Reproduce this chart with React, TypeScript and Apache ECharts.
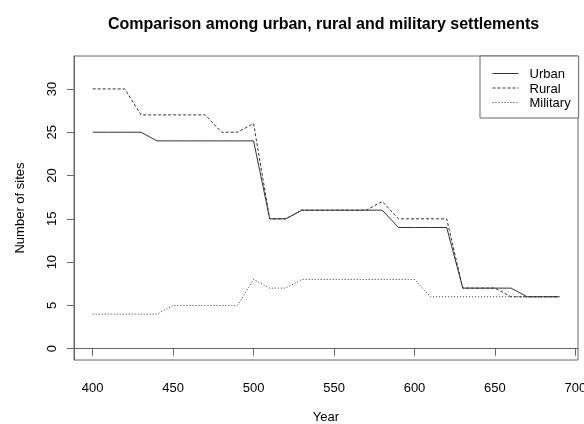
import React, { useEffect, useRef } from "react";
import * as echarts from "echarts";

const years = [400, 410, 420, 430, 440, 450, 460, 470, 480, 490, 500, 510, 520, 530, 540, 550, 560, 570, 580, 590, 600, 610, 620, 630, 640, 650, 660, 670, 680, 690];
const urban = [25, 25, 25, 25, 24, 24, 24, 24, 24, 24, 24, 15, 15, 16, 16, 16, 16, 16, 16, 14, 14, 14, 14, 7, 7, 7, 7, 6, 6, 6];
const rural = [30, 30, 30, 27, 27, 27, 27, 27, 25, 25, 26, 15, 15, 16, 16, 16, 16, 16, 17, 15, 15, 15, 15, 7, 7, 7, 6, 6, 6, 6];
const military = [4, 4, 4, 4, 4, 5, 5, 5, 5, 5, 8, 7, 7, 8, 8, 8, 8, 8, 8, 8, 8, 6, 6, 6, 6, 6, 6, 6, 6, 6];
const xTicks = [400, 450, 500, 550, 600, 650, 700];
const yTicks = [0, 5, 10, 15, 20, 25, 30];
const seriesNames = ["Urban", "Rural", "Military"];

const FONT = "'Liberation Sans', Arial, Helvetica, sans-serif";

export default function App() {
  const ref = useRef<HTMLDivElement>(null);
  useEffect(() => {
    if (!ref.current) return;
    const chart = echarts.init(ref.current, null, { renderer: "svg" });
    const lineColor = "#333";
    const mk = (name: string, vals: number[], type: any) => ({
      name,
      type: "line",
      data: years.map((y, i) => [y, vals[i]]),
      symbol: "none",
      lineStyle: { color: lineColor, width: 1, type },
      itemStyle: { color: lineColor },
    });
    chart.setOption({
      animation: false,
      textStyle: { fontFamily: FONT },
      title: {
        text: "Comparison among urban, rural and military settlements",
        left: 103,
        top: 10,
        textStyle: { fontFamily: FONT, fontWeight: "bold", fontSize: 16, color: "#000" },
      },
      grid: {
        left: 74,
        top: 56,
        right: 6,
        bottom: 64,
        outerBoundsMode: "none",
        containLabel: false,
        show: true,
        borderColor: "#666",
        borderWidth: 1,
        backgroundColor: "transparent",
      },
      legend: {
        data: seriesNames,
        orient: "vertical",
        left: 480,
        top: 56,
        padding: [11, 8, 9, 12],
        itemWidth: 26,
        itemHeight: 14,
        itemGap: 1.5,
        borderColor: "#666",
        borderWidth: 1,
        backgroundColor: "#fff",
        itemStyle: { color: "transparent", borderWidth: 0, opacity: 0 },
        lineStyle: { width: 1 },
        textStyle: { fontFamily: FONT, fontSize: 13, color: "#000", padding: [0, 0, 0, 6] },
      },
      xAxis: {
        type: "value",
        min: 388.4,
        max: 701.6,
        name: "Year",
        nameLocation: "middle",
        nameGap: 50,
        nameTextStyle: { fontFamily: FONT, fontSize: 13, color: "#000" },
        axisLine: { show: true, lineStyle: { color: "#666" } },
        axisTick: { show: true, customValues: xTicks, length: 7, lineStyle: { color: "#666" } },
        axisLabel: { customValues: xTicks, margin: 21, fontFamily: FONT, fontSize: 13, color: "#000" },
        splitLine: { show: false },
      },
      yAxis: {
        type: "value",
        min: -1.3,
        max: 33.8,
        name: "Number of sites",
        nameLocation: "middle",
        nameGap: 48,
        nameRotate: 90,
        nameTextStyle: { fontFamily: FONT, fontSize: 13, color: "#000" },
        axisLine: { show: true, lineStyle: { color: "#666" } },
        axisTick: { show: true, customValues: yTicks, length: 7, lineStyle: { color: "#666" } },
        axisLabel: { customValues: yTicks, rotate: 90, margin: 16, fontFamily: FONT, fontSize: 13, color: "#000" },
        splitLine: { show: false },
      },
      series: [
        mk("Urban", urban, "solid"),
        mk("Rural", rural, [3, 2]),
        mk("Military", military, [1, 2]),
      ],
    });
    return () => chart.dispose();
  }, []);
  return <div ref={ref} style={{ width: 584, height: 424, position: "fixed", left: 0, top: 0 }} />;
}
